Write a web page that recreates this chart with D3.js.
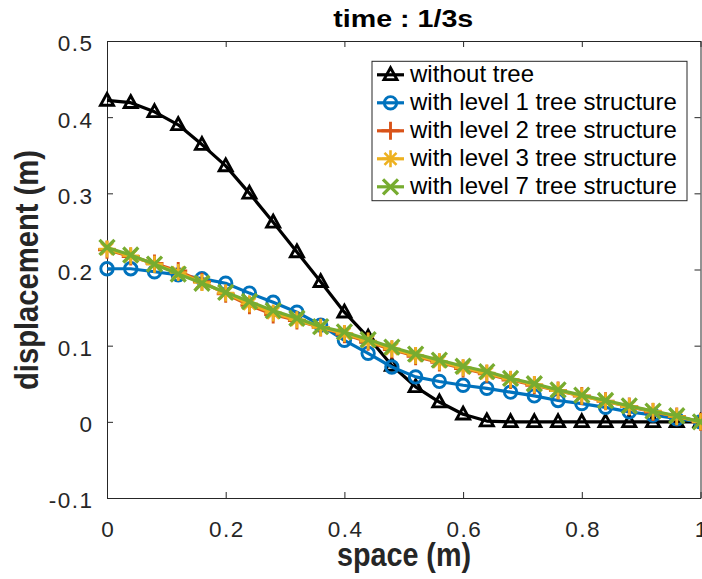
<!DOCTYPE html>
<html><head><meta charset="utf-8">
<script src="https://cdn.jsdelivr.net/npm/d3@7"></script>
<style>body{margin:0;background:#fff}svg{display:block}</style>
</head><body>
<svg id="chart" width="702" height="579"></svg>
<script>
// ---- data ----
const space = [0,0.04,0.08,0.12,0.16,0.2,0.24,0.28,0.32,0.36,0.4,0.44,0.48,0.52,0.56,0.6,0.64,0.68,0.72,0.76,0.8,0.84,0.88,0.92,0.96,1];
const withoutTree = [0.422,0.419,0.407,0.390,0.364,0.336,0.300,0.262,0.223,0.184,0.144,0.111,0.074,0.046,0.026,0.010,0.001,0,0,0,0,0,0,0,0,0];
const level1 = [0.201,0.201,0.197,0.193,0.188,0.182,0.169,0.157,0.144,0.127,0.107,0.090,0.072,0.059,0.053,0.048,0.044,0.039,0.034,0.028,0.024,0.019,0.013,0.009,0.004,0];
const level2 = [0.226,0.217,0.208,0.198,0.184,0.168,0.153,0.141,0.133,0.124,0.115,0.105,0.095,0.086,0.078,0.070,0.063,0.055,0.048,0.041,0.034,0.027,0.020,0.013,0.007,0];
const level3 = [0.227,0.218,0.207,0.196,0.183,0.169,0.155,0.143,0.134,0.124,0.116,0.106,0.096,0.087,0.079,0.071,0.064,0.056,0.049,0.041,0.034,0.027,0.020,0.014,0.007,0];
const level7 = [0.229,0.219,0.207,0.194,0.182,0.170,0.158,0.146,0.136,0.125,0.118,0.108,0.098,0.089,0.081,0.073,0.066,0.057,0.050,0.042,0.035,0.028,0.021,0.014,0.008,0];
const seriesNames = ["without tree","with level 1 tree structure","with level 2 tree structure","with level 3 tree structure","with level 7 tree structure"];
const xTicks = [0,0.2,0.4,0.6,0.8,1];
const xTickLabels = ["0","0.2","0.4","0.6","0.8","1"];
const yTicks = [-0.1,0,0.1,0.2,0.3,0.4,0.5];
const yTickLabels = ["-0.1","0","0.1","0.2","0.3","0.4","0.5"];
const titleText = "time : 1/3s";
const xLabel = "space (m)";
const yLabel = "displacement (m)";

const series = [
  {name: seriesNames[0], values: withoutTree, color: "#000000", marker: "tri"},
  {name: seriesNames[1], values: level1, color: "#0072BD", marker: "circle"},
  {name: seriesNames[2], values: level2, color: "#D95319", marker: "plus"},
  {name: seriesNames[3], values: level3, color: "#EDB120", marker: "star"},
  {name: seriesNames[4], values: level7, color: "#77AC30", marker: "x"}
];

// ---- layout ----
const svg = d3.select("#chart");
const L = 107, R = 700.5, T = 41, B = 498;
const x = d3.scaleLinear().domain([0,1]).range([L,R]);
const y = d3.scaleLinear().domain([-0.1,0.5]).range([B,T]);
const axisColor = "#262626";

svg.append("rect").attr("width",702).attr("height",579).attr("fill","#fff");

function styleAxis(g){
  g.select(".domain").attr("stroke",axisColor).attr("stroke-width",1);
  g.selectAll(".tick line").attr("stroke",axisColor).attr("stroke-width",1);
  g.selectAll(".tick text").attr("fill",axisColor)
    .attr("font-family","'Liberation Sans', Arial, sans-serif")
    .attr("font-size",22.5).attr("letter-spacing","1.5px");
}

const gx = svg.append("g").attr("transform",`translate(0,${B})`)
  .call(d3.axisBottom(x).tickValues(xTicks).tickFormat((d,i)=>xTickLabels[i]).tickSize(-6).tickSizeOuter(0).tickPadding(23));
styleAxis(gx);
gx.selectAll(".tick text").attr("dx","0.75px");
const gy = svg.append("g").attr("transform",`translate(${L},0)`)
  .call(d3.axisLeft(y).tickValues(yTicks).tickFormat((d,i)=>yTickLabels[i]).tickSize(-6).tickSizeOuter(0).tickPadding(13.5));
styleAxis(gy);
gy.selectAll(".tick text").attr("dy","0.44em");
const gt = svg.append("g").attr("transform",`translate(0,${T})`)
  .call(d3.axisTop(x).tickValues(xTicks).tickFormat("").tickSize(-6).tickSizeOuter(0));
styleAxis(gt);
const gr = svg.append("g").attr("transform",`translate(${R},0)`)
  .call(d3.axisRight(y).tickValues(yTicks).tickFormat("").tickSize(-6).tickSizeOuter(0));
styleAxis(gr);

// ---- markers ----
function markerPath(type){
  switch(type){
    case "tri": return "M0,-7L6.5,4.8L-6.5,4.8Z";
    case "circle": {const p=d3.path();p.arc(0,0,6.2,0,2*Math.PI);return p.toString();}
    case "plus": return "M-9,0L9,0M0,-9L0,9";
    case "star": {const a=8.5, b=6; return `M-${a},0L${a},0M0,-${a}L0,${a}M-${b},-${b}L${b},${b}M-${b},${b}L${b},-${b}`;}
    case "x": return "M-7.5,-7.5L7.5,7.5M-7.5,7.5L7.5,-7.5";
  }
}
function markerWidth(type){ return type==="x" ? 3.3 : type==="star" ? 2.6 : 2.9; }

const line = d3.line().x((d,i)=>x(space[i])).y(d=>y(d));
const plot = svg.append("g");
series.forEach(s=>{
  const g = plot.append("g");
  g.append("path").attr("d",line(s.values)).attr("fill","none")
    .attr("stroke",s.color).attr("stroke-width",3.2).attr("stroke-linejoin","round");
  g.selectAll("path.m").data(s.values).join("path").attr("class","m")
    .attr("transform",(d,i)=>`translate(${x(space[i])},${y(d)})`)
    .attr("d",markerPath(s.marker)).attr("fill","none")
    .attr("stroke",s.color).attr("stroke-width",markerWidth(s.marker));
});

// ---- legend ----
const lg = svg.append("g");
lg.append("rect").attr("x",372).attr("y",61.3).attr("width",315).attr("height",139.4)
  .attr("fill","#fff").attr("stroke",axisColor).attr("stroke-width",1);
series.forEach((s,i)=>{
  const base = 82.3 + 28*i, ly = base - 7.5;
  lg.append("line").attr("x1",377).attr("x2",404).attr("y1",ly).attr("y2",ly)
    .attr("stroke",s.color).attr("stroke-width",3.2);
  lg.append("path").attr("transform",`translate(390.5,${ly})`).attr("d",markerPath(s.marker))
    .attr("fill","none").attr("stroke",s.color).attr("stroke-width",markerWidth(s.marker));
  lg.append("text").attr("x",410).attr("y",base).text(s.name)
    .attr("font-family","'Liberation Sans', Arial, sans-serif").attr("font-size",24).attr("fill","#000");
});

// ---- title and labels ----
svg.append("text").attr("x",333.3).attr("y",26.7).text(titleText)
  .attr("font-family","'Liberation Sans', Arial, sans-serif").attr("font-weight","bold")
  .attr("font-size",23.5).attr("textLength",140).attr("lengthAdjust","spacingAndGlyphs").attr("fill","#000");
svg.append("text").attr("x",337).attr("y",566).text(xLabel)
  .attr("font-family","'Liberation Sans', Arial, sans-serif").attr("font-weight","bold")
  .attr("font-size",33).attr("textLength",134).attr("lengthAdjust","spacingAndGlyphs").attr("fill",axisColor);
svg.append("text").attr("transform","translate(38,270) rotate(-90)").attr("text-anchor","middle").text(yLabel)
  .attr("font-family","'Liberation Sans', Arial, sans-serif").attr("font-weight","bold")
  .attr("font-size",34).attr("textLength",240).attr("lengthAdjust","spacingAndGlyphs").attr("fill",axisColor);
</script>
</body></html>
